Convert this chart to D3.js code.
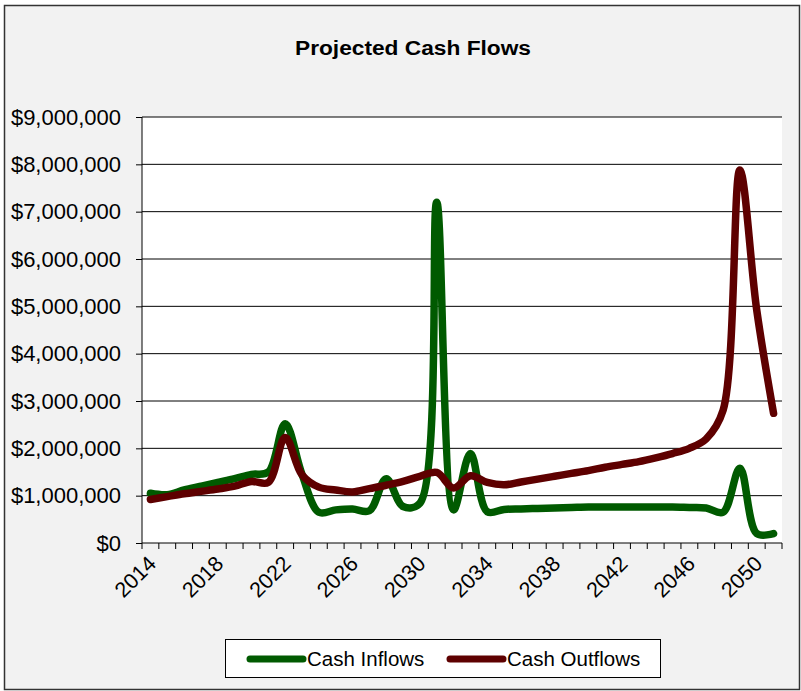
<!DOCTYPE html>
<html>
<head>
<meta charset="utf-8">
<script src="https://cdn.jsdelivr.net/npm/d3@7"></script>
<style>
  body { margin: 0; background: #fff; }
  svg { display: block; font-family: "Liberation Sans", Arial, sans-serif; }
</style>
</head>
<body>
<svg id="chart" width="801" height="691"></svg>
<script>
const years = d3.range(2014, 2052);
const yearLabels = [2014, 2018, 2022, 2026, 2030, 2034, 2038, 2042, 2046, 2050];
const yTicks = [0, 1e6, 2e6, 3e6, 4e6, 5e6, 6e6, 7e6, 8e6, 9e6];

// Cash Inflows, 2014..2051
const inflows = [
  1.05e6, 1.02e6, 1.12e6, 1.20e6, 1.28e6, 1.36e6, 1.45e6, 1.50e6, 2.52e6, 1.45e6,
  0.65e6, 0.70e6, 0.72e6, 0.68e6, 1.36e6, 0.77e6, 0.84e6, 7.2e6, 0.70e6, 1.89e6,
  0.66e6, 0.71e6, 0.72e6, 0.73e6, 0.74e6, 0.75e6, 0.76e6, 0.76e6, 0.76e6, 0.76e6,
  0.76e6, 0.76e6, 0.75e6, 0.74e6, 0.65e6, 1.58e6, 0.2e6, 0.2e6
];
// Cash Outflows, 2014..2051
const outflows = [
  0.92e6, 0.98e6, 1.04e6, 1.09e6, 1.14e6, 1.20e6, 1.30e6, 1.28e6, 2.23e6, 1.44e6,
  1.18e6, 1.12e6, 1.08e6, 1.15e6, 1.22e6, 1.30e6, 1.41e6, 1.49e6, 1.16e6, 1.42e6,
  1.28e6, 1.23e6, 1.29e6, 1.35e6, 1.41e6, 1.47e6, 1.53e6, 1.60e6, 1.66e6, 1.72e6,
  1.80e6, 1.89e6, 2.0e6, 2.2e6, 2.8e6, 7.88e6, 4.92e6, 2.74e6
];

const seriesNames = ["Cash Inflows", "Cash Outflows"];
const colors = ["#005a00", "#5e0000"];

const svg = d3.select("#chart");
const plot = { left: 142, right: 782, top: 117, bottom: 543 };

// chart frame
svg.append("rect")
  .attr("x", 4.5).attr("y", 5.5)
  .attr("width", 795).attr("height", 684)
  .attr("fill", "#f2f2f2")
  .attr("stroke", "#333").attr("stroke-width", 1.5);

svg.append("text")
  .attr("x", 413).attr("y", 55)
  .attr("text-anchor", "middle")
  .attr("font-weight", "bold")
  .attr("font-size", 20)
  .attr("textLength", 236)
  .attr("lengthAdjust", "spacingAndGlyphs")
  .text("Projected Cash Flows");

const x = d3.scaleBand().domain(years).range([plot.left, plot.right]);
const y = d3.scaleLinear().domain([0, 9e6]).range([plot.bottom, plot.top]);

svg.append("rect")
  .attr("x", plot.left).attr("y", plot.top)
  .attr("width", plot.right - plot.left).attr("height", plot.bottom - plot.top)
  .attr("fill", "#fff");

// gridlines
svg.append("g")
  .selectAll("line")
  .data(yTicks.slice(1))
  .join("line")
  .attr("x1", plot.left).attr("x2", plot.right)
  .attr("y1", d => y(d)).attr("y2", d => y(d))
  .attr("stroke", "#000").attr("stroke-width", 1);

// y axis
const yAxis = svg.append("g")
  .attr("transform", `translate(${plot.left},0)`)
  .call(d3.axisLeft(y).tickValues(yTicks).tickSize(6).tickPadding(15)
    .tickFormat(d => "$" + d3.format(",")(d)));
yAxis.select(".domain").attr("stroke", "#000").attr("d", `M0,${plot.top}V${plot.bottom}`);
yAxis.selectAll(".tick line").attr("stroke", "#000");
yAxis.selectAll(".tick text")
  .attr("font-size", 22)
  .attr("font-family", "Liberation Sans, Arial, sans-serif")
  .attr("fill", "#000");

// x axis: ticks between categories
const xAxisG = svg.append("g").attr("transform", `translate(0,${plot.bottom})`);
xAxisG.append("line")
  .attr("x1", plot.left).attr("x2", plot.right)
  .attr("stroke", "#000");
xAxisG.selectAll(".xt")
  .data(years.concat([2052]))
  .join("line")
  .attr("class", "xt")
  .attr("x1", (d, i) => plot.left + i * x.bandwidth())
  .attr("x2", (d, i) => plot.left + i * x.bandwidth())
  .attr("y1", 0).attr("y2", 6)
  .attr("stroke", "#000");
xAxisG.selectAll(".xl")
  .data(yearLabels)
  .join("text")
  .attr("class", "xl")
  .attr("font-size", 21.5)
  .attr("text-anchor", "end")
  .attr("transform", d => `translate(${x(d) + x.bandwidth() / 2 + 7},${22}) rotate(-45)`)
  .text(d => d);

// lines
const line = d3.line()
  .x((d, i) => x(years[i]) + x.bandwidth() / 2)
  .y(d => y(d))
  .curve(d3.curveCatmullRom.alpha(0.5));

[inflows, outflows].forEach((vals, k) => {
  svg.append("path")
    .datum(vals)
    .attr("d", line)
    .attr("fill", "none")
    .attr("stroke", colors[k])
    .attr("stroke-width", 7.5)
    .attr("stroke-linecap", "round")
    .attr("stroke-linejoin", "round");
});

// legend
const legend = svg.append("g");
legend.append("rect")
  .attr("x", 225.5).attr("y", 639.5)
  .attr("width", 435).attr("height", 38)
  .attr("fill", "#fff").attr("stroke", "#000");
const legendX = [250, 450];
seriesNames.forEach((name, k) => {
  legend.append("line")
    .attr("x1", legendX[k]).attr("x2", legendX[k] + 53)
    .attr("y1", 659).attr("y2", 659)
    .attr("stroke", colors[k]).attr("stroke-width", 7)
    .attr("stroke-linecap", "round");
  legend.append("text")
    .attr("x", legendX[k] + 57).attr("y", 666)
    .attr("font-size", 20.5)
    .text(name);
});
</script>
</body>
</html>
